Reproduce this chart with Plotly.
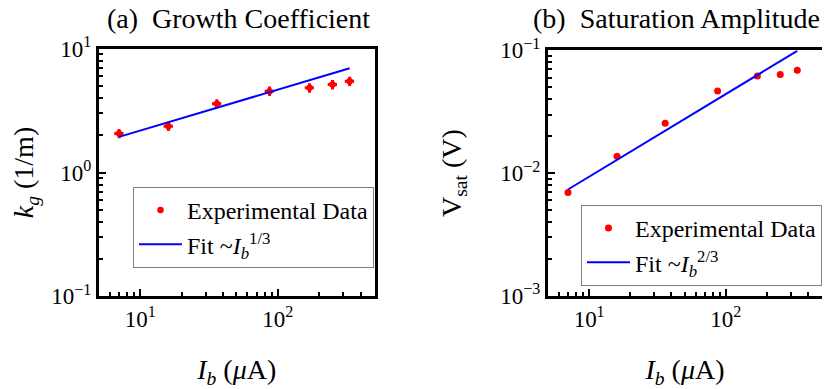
import plotly.graph_objects as go
import numpy as np

# beam current (uA)
ib = [7, 16, 36, 87, 170, 250, 333]

# (a) growth coefficient k_g (1/m)
kg = [2.07, 2.36, 3.6, 4.54, 4.83, 5.14, 5.46]
kg_err = [0.18, 0.2, 0.31, 0.4, 0.42, 0.45, 0.47]
ib_err = [0.55, 1.25, 2.8, 6.8, 13, 19.5, 26]

# (b) saturation amplitude V_sat (V)
vsat = [0.00697, 0.0137, 0.0255, 0.0467, 0.0618, 0.0634, 0.0687]

# fit lines (end points)
fit_ib = [7, 333]
fit_kg = [1.94, 6.95]
fit_vsat = [0.00736, 0.099]

serif = 'Liberation Serif'
W, H = 830, 389
OFF = 8  # page body margin

fig = go.Figure()

# panel (a) ------------------------------------------------
fig.add_trace(go.Scatter(x=ib, y=kg, mode='markers', name='Experimental Data',
                         marker=dict(color='#ff0000', size=6.5),
                         error_x=dict(type='data', array=ib_err, color='#ff0000', thickness=3, width=0),
                         error_y=dict(type='data', array=kg_err, color='#ff0000', thickness=3, width=0),
                         xaxis='x', yaxis='y', legend='legend', legendgroup='a1'))
fig.add_trace(go.Scatter(x=fit_ib, y=fit_kg, mode='lines',
                         name='Fit ~<i>I</i><sub><i>b</i></sub><sup>1/3</sup>',
                         line=dict(color='#0000ff', width=2),
                         xaxis='x', yaxis='y', legend='legend', legendgroup='a2'))

# panel (b) ------------------------------------------------
fig.add_trace(go.Scatter(x=ib, y=vsat, mode='markers', name='Experimental Data',
                         marker=dict(color='#ff0000', size=7),
                         xaxis='x2', yaxis='y2', legend='legend2', legendgroup='b1'))
fig.add_trace(go.Scatter(x=fit_ib, y=fit_vsat, mode='lines',
                         name='Fit ~<i>I</i><sub><i>b</i></sub><sup>2/3</sup>',
                         line=dict(color='#0000ff', width=2),
                         xaxis='x2', yaxis='y2', legend='legend2', legendgroup='b2'))

def px(v):
    return (v - OFF) / W

def py(v):
    return 1 - (v - OFF) / H

xdom_a = [px(99), px(374.5)]
xdom_b = [px(548), px(822)]
ydom_a = [py(296.3), py(48.7)]
ydom_b = [py(296), py(50.3)]

ax_common = dict(type='log', showline=True, linecolor='black', linewidth=3, mirror=True,
                 ticks='inside', ticklen=7, tickwidth=2, tickcolor='black',
                 showgrid=False, zeroline=False, automargin=False,
                 tickfont=dict(family=serif, size=23, color='black'),
                 minor=dict(ticks='inside', ticklen=4, tickwidth=2, tickcolor='black',
                            dtick='D1', showgrid=False))

xt = dict(tickmode='array', tickvals=[10, 100],
          ticktext=['10<sup>1</sup>', '10<sup>2</sup>'],
          range=[np.log10(5), np.log10(505)])

xtitle = dict(text='<i>I</i><sub><i>b</i></sub> (<i>μ</i>A)',
              font=dict(family=serif, size=28, color='black'), standoff=29)

legend_style = dict(xanchor='left', yanchor='top', bgcolor='white',
                    bordercolor='#808080', borderwidth=1, itemwidth=43,
                    font=dict(family=serif, size=24, color='black'), tracegroupgap=0)

fig.update_layout(
    width=W, height=H,
    margin=dict(l=0, r=0, t=0, b=0, autoexpand=False),
    paper_bgcolor='white', plot_bgcolor='white',
    xaxis=dict(**ax_common, **xt, domain=xdom_a, anchor='y', title=xtitle),
    yaxis=dict(**ax_common, domain=ydom_a, anchor='x', range=[-1, 1],
               tickmode='array', tickvals=[0.1, 1, 10],
               ticktext=['10<sup>−1</sup>', '10<sup>0</sup>', '10<sup>1</sup>'],
               title=dict(text='<i>k</i><sub><i>g</i></sub> (1/m)',
                          font=dict(family=serif, size=28, color='black'), standoff=31)),
    xaxis2=dict(**ax_common, **xt, domain=xdom_b, anchor='y2', title=xtitle),
    yaxis2=dict(**ax_common, domain=ydom_b, anchor='x2', range=[-3, -1],
                tickmode='array', tickvals=[0.001, 0.01, 0.1],
                ticktext=['10<sup>−3</sup>', '10<sup>−2</sup>', '10<sup>−1</sup>'],
                title=dict(text='V<sub>sat</sub> (V)',
                           font=dict(family=serif, size=28, color='black'), standoff=31)),
    legend=dict(x=px(133), y=py(187), **legend_style),
    legend2=dict(x=px(581), y=py(205), **legend_style),
    showlegend=True,
)

fig.add_annotation(text='(a)  Growth Coefficient', x=px(238), y=py(19), xref='paper', yref='paper',
                   xanchor='center', yanchor='middle',
                   showarrow=False, font=dict(family=serif, size=28, color='black'))
fig.add_annotation(text='(b)  Saturation Amplitude', x=px(676), y=py(19), xref='paper', yref='paper',
                   xanchor='center', yanchor='middle',
                   showarrow=False, font=dict(family=serif, size=28, color='black'))

fig.write_html('out.html')
